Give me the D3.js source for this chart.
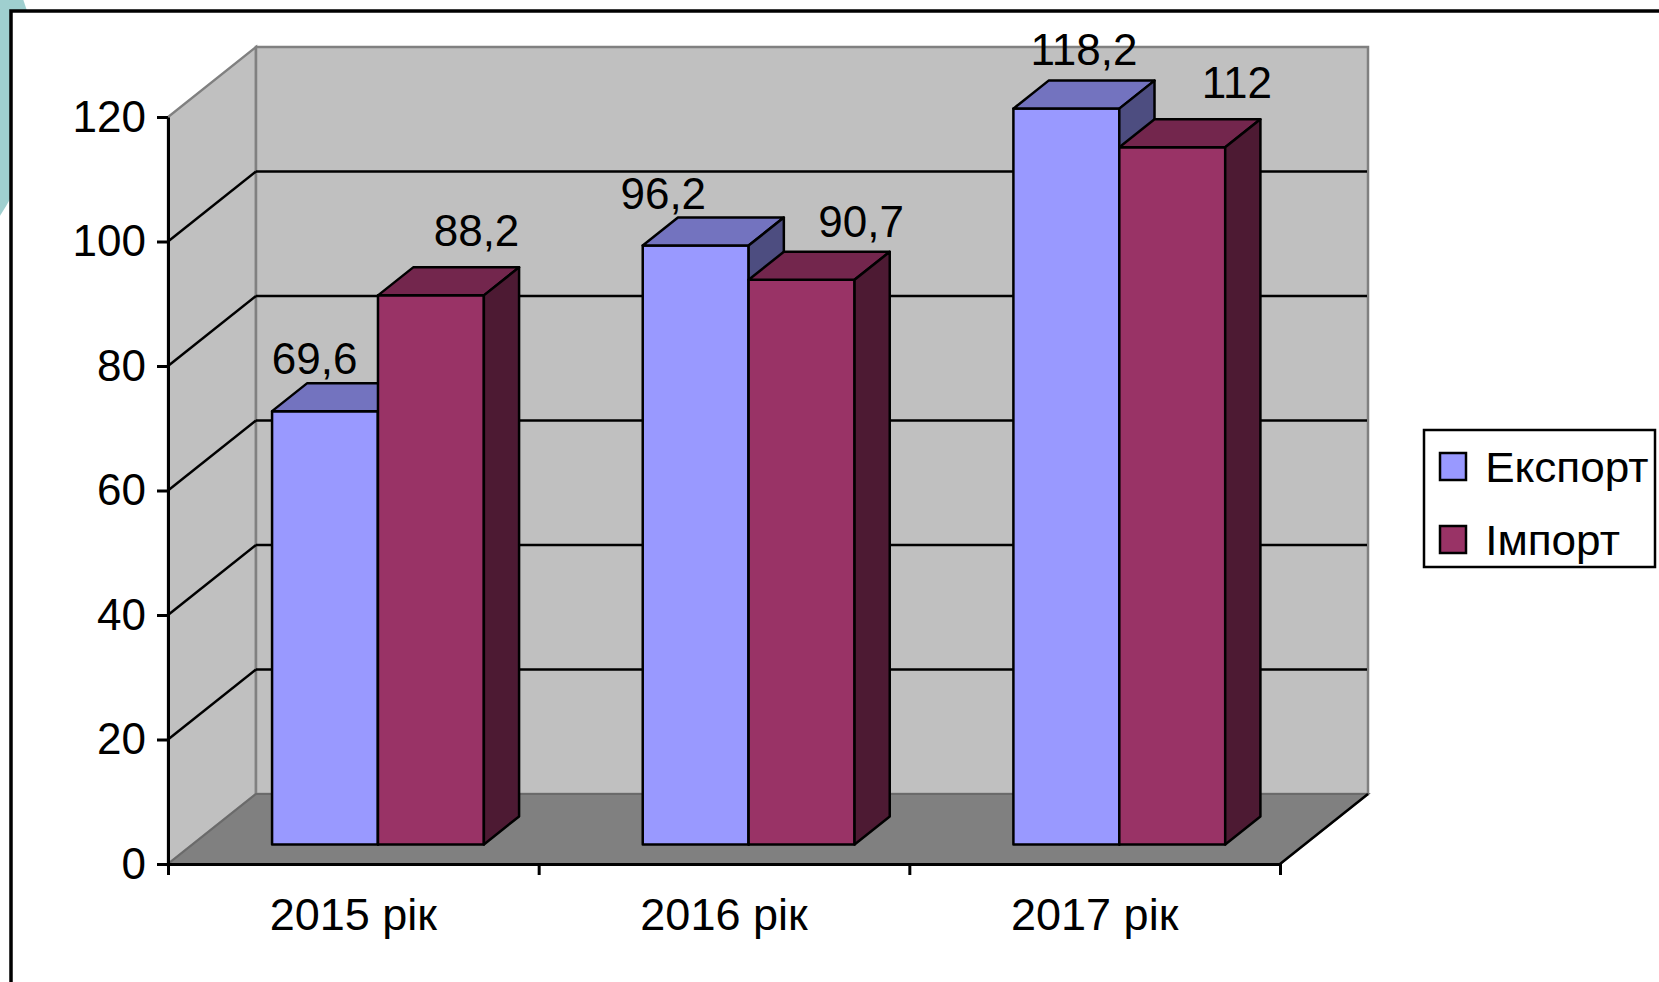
<!DOCTYPE html>
<html>
<head>
<meta charset="utf-8">
<script src="https://cdn.jsdelivr.net/npm/d3@7"></script>
<style>
  body { margin: 0; background: #ffffff; }
  svg { display: block; font-family: "Liberation Sans", Arial, sans-serif; }
</style>
</head>
<body>
<svg id="vis-svg" width="1659" height="982"></svg>
<script>

// Data
var years = ['2015 рік', '2016 рік', '2017 рік'];
var seriesNames = ['Експорт', 'Імпорт'];
var exportValues = [69.6, 96.2, 118.2];
var importValues = [88.2, 90.7, 112];
var yTicks = [0, 20, 40, 60, 80, 100, 120];

// label nudges (px) relative to the top face of each bar, [export, import] per year
var labelNudge = [[[-28, -9], [28, -21]], [[-50, -9], [42, -15]], [[0, -16], [47, -21]]];

var colors = {
  'Експорт': { front: '#9999ff', top: '#7373bf', side: '#4d4d80' },
  'Імпорт':  { front: '#993366', top: '#73264d', side: '#4d1a33' }
};

function drawChart() {

var svg = d3.select('#vis-svg');

// decoration circle + frame
svg.append('circle')
  .attr('cx', -200).attr('cy', 85).attr('r', 239)
  .attr('fill', '#9fcfcf');
svg.append('rect')
  .attr('x', 11).attr('y', 11)
  .attr('width', 1700).attr('height', 1000)
  .attr('fill', '#ffffff')
  .attr('stroke', '#000').attr('stroke-width', 3.5);

// Bounds of the front plane
var plotLeft = 168, plotRight = 1280, plotBottom = 864, plotTop = 117;
var dx = 88, dy = -70;          // wall depth vector
var barFront = 0.28;            // bars start at this fraction of the depth
var barDepth = 0.4;             // bar depth as fraction of the depth

var yScale = d3.scaleLinear().domain([0, 120]).range([plotBottom, plotTop]);
var xScale = d3.scaleBand().domain(years).range([plotLeft, plotRight]);
var sScale = d3.scaleBand().domain(seriesNames).range([0, xScale.bandwidth()]).paddingOuter(0.75);

function pts(arr) { return arr.map(function(p){ return p.join(','); }).join(' '); }

var g = svg.append('g');

// Walls
g.append('polygon')
  .attr('points', pts([[plotLeft, yScale(0)], [plotLeft + dx, yScale(0) + dy], [plotLeft + dx, yScale(120) + dy], [plotLeft, yScale(120)]]))
  .attr('fill', '#c0c0c0').attr('stroke', '#808080').attr('stroke-width', 2.5);
g.append('polygon')
  .attr('points', pts([[plotLeft + dx, yScale(0) + dy], [plotRight + dx, yScale(0) + dy], [plotRight + dx, yScale(120) + dy], [plotLeft + dx, yScale(120) + dy]]))
  .attr('fill', '#c0c0c0').attr('stroke', '#808080').attr('stroke-width', 2.5);

// Floor
g.append('polygon')
  .attr('points', pts([[plotLeft, yScale(0)], [plotRight, yScale(0)], [plotRight + dx, yScale(0) + dy], [plotLeft + dx, yScale(0) + dy]]))
  .attr('fill', '#808080').attr('stroke', '#6a6a6a').attr('stroke-width', 2);
g.append('line')
  .attr('x1', plotRight).attr('y1', yScale(0))
  .attr('x2', plotRight + dx).attr('y2', yScale(0) + dy)
  .attr('stroke', '#000').attr('stroke-width', 2.5);

// Gridlines
var grid = yTicks.filter(function(v){ return v > 0 && v < 120; });
g.selectAll('.gridSide').data(grid).enter().append('line')
  .attr('x1', plotLeft).attr('y1', function(d){ return yScale(d); })
  .attr('x2', plotLeft + dx).attr('y2', function(d){ return yScale(d) + dy; })
  .attr('stroke', '#000').attr('stroke-width', 2.5);
g.selectAll('.gridBack').data(grid).enter().append('line')
  .attr('x1', plotLeft + dx).attr('y1', function(d){ return yScale(d) + dy; })
  .attr('x2', plotRight + dx - 1).attr('y2', function(d){ return yScale(d) + dy; })
  .attr('stroke', '#000').attr('stroke-width', 2.5);

// Y Axis
var yAxis = d3.axisLeft(yScale).tickValues(yTicks).tickSize(11).tickSizeOuter(0).tickPadding(11);
var yAxisG = g.append('g')
  .attr('transform', 'translate(' + plotLeft + ',0)')
  .call(yAxis);
yAxisG.selectAll('path, line').attr('stroke', '#000').attr('stroke-width', 3);
yAxisG.selectAll('text')
  .attr('font-size', 44).attr('fill', '#000')
  .attr('font-family', '"Liberation Sans", Arial, sans-serif');

// X Axis (ticks between categories)
var xTickScale = d3.scaleLinear().domain([0, years.length]).range([plotLeft, plotRight]);
var xAxis = d3.axisBottom(xTickScale).tickValues(d3.range(years.length + 1)).tickSize(11).tickSizeOuter(0).tickFormat('');
var xAxisG = g.append('g')
  .attr('transform', 'translate(0,' + plotBottom + ')')
  .call(xAxis);
xAxisG.selectAll('path, line').attr('stroke', '#000').attr('stroke-width', 3);

g.selectAll('.xLabel').data(years).enter().append('text')
  .attr('x', function(d){ return xScale(d) + xScale.bandwidth() / 2; })
  .attr('y', plotBottom + 66)
  .attr('text-anchor', 'middle')
  .attr('font-size', 45)
  .text(function(d){ return d; });

// Bars
var bdx = barFront * dx, bdy = barFront * dy;
var ddx = barDepth * dx, ddy = barDepth * dy;
var w = sScale.bandwidth();

years.forEach(function(year, i) {
  var vals = [exportValues[i], importValues[i]];
  seriesNames.forEach(function(s, j) {
    var x0 = xScale(year) + sScale(s) + bdx;
    var x1 = x0 + w;
    var yb = yScale(0) + bdy;
    var yt = yScale(vals[j]) + bdy;
    var c = colors[s];
    var bar = g.append('g').attr('stroke', '#000').attr('stroke-width', 2.5).attr('stroke-linejoin', 'round');
    bar.append('polygon')
      .attr('points', pts([[x0, yb], [x1, yb], [x1, yt], [x0, yt]]))
      .attr('fill', c.front);
    bar.append('polygon')
      .attr('points', pts([[x0, yt], [x1, yt], [x1 + ddx, yt + ddy], [x0 + ddx, yt + ddy]]))
      .attr('fill', c.top);
    bar.append('polygon')
      .attr('points', pts([[x1, yb], [x1 + ddx, yb + ddy], [x1 + ddx, yt + ddy], [x1, yt]]))
      .attr('fill', c.side);

    // value label
    var nudge = labelNudge[i][j];
    g.append('text')
      .attr('x', (x0 + x1) / 2 + ddx / 2 + nudge[0])
      .attr('y', yt + ddy + nudge[1])
      .attr('text-anchor', 'middle')
      .attr('font-size', 44)
      .text(String(vals[j]).replace('.', ','));
  });
});

// Legend
var legend = svg.append('g');
legend.append('rect')
  .attr('x', 1424).attr('y', 430).attr('width', 231).attr('height', 137)
  .attr('fill', '#fff').attr('stroke', '#000').attr('stroke-width', 2.5);
var items = legend.selectAll('.item').data(seriesNames).enter().append('g')
  .attr('transform', function(d, i){ return 'translate(1440,' + (453 + i * 73) + ')'; });
items.append('rect')
  .attr('width', 26).attr('height', 27)
  .attr('fill', function(d){ return colors[d].front; })
  .attr('stroke', '#000').attr('stroke-width', 2.5);
items.append('text')
  .attr('x', 43).attr('y', 29)
  .attr('font-size', 42)
  .attr('transform', 'scale(1.05,1)')
  .text(function(d){ return d; });

}

drawChart();

</script>
</body>
</html>
